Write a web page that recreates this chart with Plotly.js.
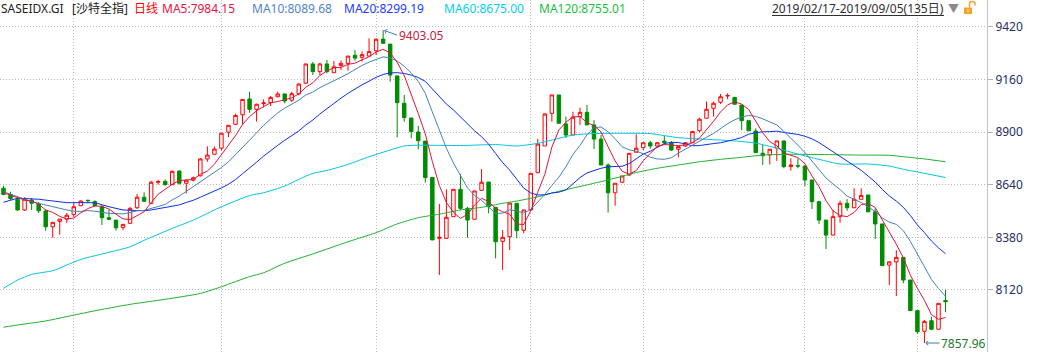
<!DOCTYPE html>
<html>
<head>
<meta charset="utf-8">
<script src="https://cdn.plot.ly/plotly-3.0.1.min.js"></script>
<style>
  html, body { margin: 0; padding: 0; background: #ffffff; }
  #chart { width: 1052px; height: 352px; }
</style>
</head>
<body>
<div id="chart"></div>
<script>
// ---------------- data ----------------
const openV = [8622,8592,8568,8515,8564,8544,8510,8432,8459,8470,8492,8536,8563,8556,8531,8477,8465,8429,8449,8526,
  8578,8548,8652,8656,8640,8707,8647,8662,8684,8767,8790,8820,8899,8938,8985,9063,9012,9040,9045,9074,
  9088,9057,9089,9141,9236,9198,9236,9193,9229,9239,9279,9269,9275,9301,9359,9334,9177,9042,8969,8900,
  8855,8675,8375,8375,8482,8617,8523,8469,8612,8653,8528,8360,8383,8548,8415,8515,8699,8831,8992,9083,
  8940,8885,8976,8997,8935,8865,8737,8600,8652,8688,8800,8823,8847,8831,8855,8847,8815,8831,8847,8906,
  8968,9017,9047,9078,9071,9033,8956,8905,8795,8787,8820,8856,8729,8735,8732,8663,8556,8465,8391,8482,
  8548,8526,8568,8589,8506,8446,8243,8259,8281,8169,8018,7916,7968,7926,8068];
const highV = [8634,8605,8578,8578,8574,8554,8520,8454,8470,8500,8549,8563,8565,8563,8539,8518,8465,8444,8530,8594,
  8602,8659,8664,8666,8710,8711,8662,8680,8771,8829,8829,8894,8933,8990,9061,9099,9040,9061,9078,9099,
  9088,9099,9140,9236,9246,9242,9256,9251,9252,9275,9305,9298,9363,9363,9403.05,9334,9177,9083,8969,8930,
  8855,8675,8545,8617,8617,8693,8531,8609,8717,8653,8528,8416,8549,8548,8515,8696,8866,8992,9083,9083,
  8976,9000,9020,9033,8959,8885,8745,8647,8683,8795,8889,8847,8857,8850,8880,8855,8828,8850,8906,8970,
  9050,9050,9088,9091,9071,9033,8956,8918,8836,8815,8856,8856,8770,8770,8732,8663,8561,8465,8515,8561,
  8569,8622,8622,8589,8523,8446,8259,8317,8281,8169,8018,7972,7988,8054,8120];
const lowV = [8588,8564,8510,8510,8515,8500,8412,8378,8393,8450,8480,8534,8549,8532,8441,8465,8413,8415,8449,8520,
  8556,8544,8640,8635,8638,8640,8597,8657,8680,8753,8790,8810,8874,8935,8938,8995,8951,9022,9028,9071,
  9042,9048,9081,9137,9181,9181,9190,9193,9206,9203,9252,9248,9275,9280,9338,9148,8874,8951,8869,8815,
  8650,8367,8194,8375,8482,8515,8378,8469,8612,8499,8276,8218,8317,8375,8400,8515,8699,8831,8951,8943,
  8869,8885,8935,8935,8816,8737,8502,8536,8647,8683,8800,8811,8818,8825,8836,8806,8775,8826,8847,8900,
  8968,8976,9038,9062,9037,8910,8906,8798,8737,8740,8757,8721,8709,8721,8633,8520,8446,8322,8391,8452,
  8511,8526,8568,8506,8372,8240,8144,8090,8153,8018,7903,7857.96,7922,7926,8010];
const closeV = [8592,8571,8515,8568,8548,8511,8432,8454,8470,8489,8531,8559,8561,8536,8477,8469,8427,8444,8523,8578,
  8558,8652,8655,8640,8706,8647,8662,8674,8767,8786,8816,8894,8933,8982,9061,9012,9037,9044,9071,9088,
  9053,9089,9137,9236,9198,9236,9198,9222,9239,9275,9265,9282,9297,9358,9338,9181,9045,8971,8902,8857,
  8675,8367,8380,8479,8617,8523,8465,8609,8652,8531,8358,8380,8549,8413,8515,8696,8841,8989,9083,8943,
  8885,8973,8997,8935,8865,8737,8600,8647,8683,8795,8820,8847,8831,8847,8847,8811,8828,8847,8902,8963,
  9012,9042,9074,9080,9037,8956,8906,8798,8783,8815,8856,8729,8737,8732,8663,8556,8465,8391,8482,8548,
  8526,8568,8587,8506,8446,8240,8259,8281,8169,8018,7914,7965,7926,8054,8062];

const ma5 = [8600,null,null,8564,8559,8543,8515,8503,8483,8471,8475,8501,8522,8535,8533,8520,8494,8471,8468,8488,
  8506,8551,8593,8617,8642,8660,8662,8666,8691,8707,8741,8787,8839,8882,8937,8976,9005,9027,9045,9050,
  9059,9069,9088,9121,9143,9179,9201,9218,9219,9234,9240,9257,9272,9295,9308,9291,9244,9179,9087,8991,
  8890,8754,8636,8552,8504,8473,8493,8539,8573,8556,8523,8506,8494,8446,8443,8511,8603,8691,8825,8910,
  8948,8975,8976,8947,8931,8901,8827,8757,8706,8692,8709,8758,8795,8828,8838,8837,8833,8836,8847,8870,
  8910,8953,8999,9034,9049,9038,9011,8955,8896,8852,8832,8796,8784,8774,8743,8683,8631,8561,8511,8488,
  8482,8503,8542,8547,8527,8469,8408,8346,8279,8193,8128,8069,7998,7975,7984];
const ma10 = [8605,null,null,null,8556,null,null,null,null,8515,8509,8508,8512,8509,8502,8498,8497,8496,8502,8511,
  8513,8523,8532,8542,8565,8583,8607,8630,8654,8675,8701,8725,8753,8787,8822,8859,8896,8933,8964,8994,
  9018,9037,9057,9083,9097,9119,9135,9153,9170,9188,9210,9229,9245,9257,9271,9266,9250,9225,9191,9150,
  9091,8999,8907,8820,8747,8682,8624,8587,8562,8530,8498,8499,8516,8510,8500,8517,8554,8592,8636,8677,
  8729,8789,8834,8886,8921,8925,8901,8867,8827,8812,8805,8793,8776,8767,8765,8773,8796,8816,8838,8854,
  8874,8893,8917,8941,8960,8974,8982,8977,8965,8950,8935,8903,8870,8835,8798,8758,8713,8673,8643,8616,
  8583,8567,8552,8529,8508,8476,8455,8444,8413,8360,8299,8239,8172,8127,8089];
const ma20 = [8553,null,8573,null,null,8568,null,null,null,8551,null,null,null,8551,null,8531,null,8515,null,8513,
  8511,8515,8522,8526,8534,8540,8552,8563,8578,8593,8607,8624,8642,8665,8694,8721,8751,8781,8809,8834,
  8859,8881,8905,8935,8959,8989,9016,9043,9067,9091,9114,9133,9151,9170,9184,9192,9193,9189,9181,9169,
  9150,9114,9076,9038,9009,8974,8937,8906,8877,8840,8794,8749,8712,8665,8623,8599,8589,8590,8599,8603,
  8614,8644,8675,8698,8710,8721,8728,8729,8731,8744,8767,8791,8805,8826,8843,8849,8848,8841,8832,8833,
  8839,8843,8847,8854,8863,8873,8889,8896,8901,8902,8904,8898,8894,8888,8879,8866,8848,8825,8804,8783,
  8759,8735,8711,8682,8653,8617,8584,8559,8528,8488,8441,8403,8362,8328,8299];
const ma60 = [8128,null,8169,null,8197,null,null,8215,null,8243,null,8271,null,null,null,8306,null,null,8333,null,
  8365,null,null,null,8424,null,null,8465,null,null,null,8531,null,null,null,8586,null,8600,null,null,
  8633,null,8666,null,8696,null,8710,null,null,8740,null,null,8778,null,8800,null,null,8831,null,8835,
  null,null,null,null,null,8833,null,null,null,null,8838,null,null,8831,null,null,8844,null,8860,null,
  null,8885,null,null,8892,null,null,null,8894,null,null,null,8892,null,null,null,8872,null,null,null,
  8864,null,null,null,8856,null,null,8845,null,null,8820,null,null,8791,null,null,8765,null,null,8742,
  null,null,null,8742,null,null,8732,null,8716,null,null,8696,null,null,8675];
const ma120 = [7936,null,7947,null,null,null,7967,null,null,null,7996,null,null,null,8024,null,null,null,8049,null,
  null,null,null,8074,null,null,null,null,8103,null,null,8136,null,null,null,8186,null,8205,null,null,
  8252,null,null,null,8298,null,null,null,null,8358,null,null,null,8403,null,null,8446,null,null,8477,
  null,null,8494,null,null,8515,null,null,8528,null,null,8548,null,8559,null,null,8580,null,null,8607,
  null,null,8631,null,null,8655,null,null,8681,null,8700,null,null,8721,null,null,8737,null,null,8753,
  null,null,8765,null,null,8775,null,null,8786,null,null,null,8790,null,null,null,null,null,8788,null,
  null,null,8786,null,null,null,8785,null,8778,null,null,8767,null,null,8753];

const yTicks = [8120, 8380, 8640, 8900, 9160, 9420];
const monthStartIdx = [10, 31, 53, 75, 91, 114, 130];
const maNames = ['MA5', 'MA10', 'MA20', 'MA60', 'MA120'];
const maLast = ['7984.15', '8089.68', '8299.19', '8675.00', '8755.01'];
const codeText = 'SASEIDX.GI';
const nameText = '[沙特全指]';
const periodText = '日线';
const rangeText = '2019/02/17-2019/09/05(135日)';

// ---------------- styling ----------------
const W = 1052, H = 352, R = 65;
const PW = W - R;
const px = x => x / PW;
const py = y => 1 - y / H;
const maColors = ['#e2143c', '#4682b4', '#0a30f0', '#00c4e4', '#22b030'];
const headColors = ['#ee1040', '#4f86c6', '#1a3cff', '#00d0f0', '#20c040'];
const FONT = 'Noto Sans, Noto Sans CJK SC, sans-serif';
const idx = closeV.map((_, i) => i);

const traces = [{
  type: 'candlestick', x: idx, open: openV, high: highV, low: lowV, close: closeV,
  increasing: { line: { color: '#ff0000', width: 1 }, fillcolor: '#ffffff' },
  decreasing: { line: { color: '#008c00', width: 1 }, fillcolor: '#008c00' },
  whiskerwidth: 0, hoverinfo: 'skip', showlegend: false
}];
[ma120, ma60, ma20, ma10, ma5].forEach((arr, k) => {
  const ci = 4 - k;
  const sparse = ci >= 3;
  traces.push({
    type: 'scatter', mode: 'lines', x: idx, y: arr, connectgaps: true,
    line: { color: maColors[ci], width: 1, shape: sparse ? 'spline' : 'linear', smoothing: 0.6 },
    hoverinfo: 'skip', showlegend: false
  });
});

const ann = [];
const headY = py(8.5);
function head(x, text, color, size) {
  ann.push({ xref: 'paper', yref: 'paper', x: px(x), y: headY, xanchor: 'left', yanchor: 'middle',
    text: text, showarrow: false, font: { family: FONT, size: size || 12, color: color } });
}
head(-1, codeText, '#222222');
head(70, nameText, '#222222');
head(132, periodText, '#ff0000');
const headX = [160, 250, 342, 442, 537];
maNames.forEach((n, i) => head(headX[i], n + ':' + maLast[i], headColors[i]));
head(770, rangeText, '#303030', 12);
head(946, '▼', '#8a8a8a', 11);

const hiMax = Math.max(...highV), hiI = highV.indexOf(hiMax);
const loMin = Math.min(...lowV), loI = lowV.indexOf(loMin);
ann.push({ xref: 'x', yref: 'y', x: hiI, y: hiMax, text: hiMax.toFixed(2), showarrow: true,
  ax: 14, ay: 5, xanchor: 'left', yanchor: 'middle', arrowhead: 4, arrowsize: 0.8, arrowwidth: 1,
  arrowcolor: '#4a7ab4', standoff: 1, font: { family: FONT, size: 12, color: '#c8203c' } });
ann.push({ xref: 'x', yref: 'y', x: loI, y: loMin, text: loMin.toFixed(2), showarrow: true,
  ax: 15, ay: 0, xanchor: 'left', yanchor: 'middle', arrowhead: 4, arrowsize: 0.8, arrowwidth: 1,
  arrowcolor: '#4a7ab4', standoff: 1, font: { family: FONT, size: 12, color: '#1e7a2c' } });

const shapes = [
  { type: 'line', xref: 'paper', yref: 'paper', x0: px(772), x1: px(944), y0: py(15.5), y1: py(15.5),
    line: { color: '#303030', width: 1 } },
  { type: 'rect', xref: 'paper', yref: 'paper', x0: px(964), x1: px(972), y0: py(14), y1: py(7.5),
    fillcolor: '#f2a328', line: { width: 0 } },
  { type: 'path', xref: 'paper', yref: 'paper',
    path: `M ${px(969.5)},${py(7.5)} L ${px(969.5)},${py(4)} Q ${px(969.5)},${py(1.5)} ${px(972.3)},${py(1.5)} Q ${px(975)},${py(1.5)} ${px(975)},${py(4)} L ${px(975)},${py(5.5)}`,
    line: { color: '#f2a328', width: 1.5 } },
  { type: 'rect', xref: 'paper', yref: 'paper', x0: px(967.3), x1: px(968.7), y0: py(12), y1: py(9.5),
    fillcolor: '#fde2a8', line: { width: 0 } }
];

const grid = '#bcbcbc';
const layout = {
  width: W, height: H,
  margin: { l: 0, r: R, t: 0, b: 0, pad: 0 },
  paper_bgcolor: '#ffffff', plot_bgcolor: '#ffffff',
  showlegend: false, dragmode: false, hovermode: false,
  xaxis: {
    range: [-0.5, 139.9], showticklabels: false, tickmode: 'array', tickvals: monthStartIdx,
    ticks: '', showgrid: true, gridcolor: grid, gridwidth: 1, griddash: '1px,2px',
    zeroline: false, showline: false, rangeslider: { visible: false }, fixedrange: true
  },
  yaxis: {
    side: 'right', range: [7813.7, 9551.8], tickmode: 'array', tickvals: yTicks,
    ticktext: yTicks.map(String), ticks: 'outside', ticklen: 5, tickwidth: 1, tickcolor: '#b0b0b0',
    showline: true, linecolor: '#c4c4c4', linewidth: 1,
    showgrid: true, gridcolor: grid, gridwidth: 1, griddash: '1px,2px', zeroline: false,
    tickfont: { family: FONT, size: 12, color: '#26315e' }, fixedrange: true
  },
  annotations: ann,
  shapes: shapes
};

Plotly.newPlot('chart', traces, layout, { staticPlot: true, displayModeBar: false });
</script>
</body>
</html>
